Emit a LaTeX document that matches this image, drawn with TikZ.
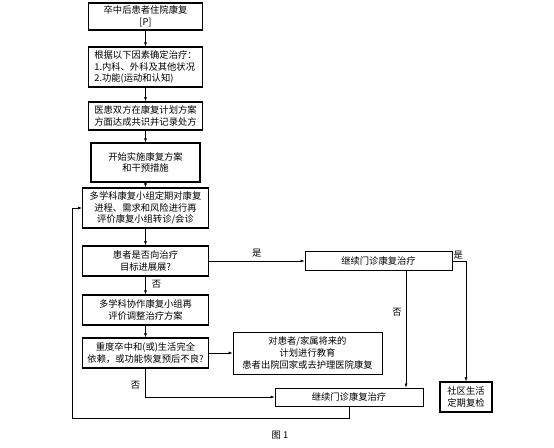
\documentclass[tikz,border=0pt]{standalone}
\usepackage{fontspec}
\setmainfont{Noto Sans CJK SC}
\usetikzlibrary{arrows.meta}
\begin{document}
\begin{tikzpicture}[x=1pt,y=-1pt,
  font=\fontsize{9.3}{11.8}\selectfont,
  box/.style={draw, line width=1.2pt, align=center, inner sep=0pt},
  thinbox/.style={box, line width=0.8pt},
  arr/.style={-{Latex[length=4pt,width=3pt]}, line width=0.6pt},
  lbl/.style={inner sep=0pt, font=\fontsize{9.3}{10}\selectfont}]
\useasboundingbox (0,0) rectangle (554,447);
\node[box, minimum width=114, minimum height=27] (b1) at (145.5,16.5) {卒中后患者住院康复\\\relax [P]};
\node[box, minimum width=114, minimum height=40, align=left] (b2) at (145.5,67) {根据以下因素确定治疗：\\1.内科、外科及其他状况\\2.功能(运动和认知)};
\node[box, minimum width=114, minimum height=28] (b3) at (145.5,116) {医患双方在康复计划方案\\方面达成共识并记录处方};
\node[box, minimum width=109, minimum height=39] (b4) at (145.5,162.5) {开始实施康复方案\\和干预措施};
\node[box, minimum width=126, minimum height=40] (b5) at (145.5,208) {多学科康复小组定期对康复\\进程、需求和风险进行再\\评价康复小组转诊/会诊};
\node[box, minimum width=126, minimum height=30] (b6) at (145.5,261) {患者是否向治疗\\目标进展展?};
\node[thinbox, minimum width=147, minimum height=19] (b7) at (378.5,261) {继续门诊康复治疗};
\node[box, minimum width=126, minimum height=30] (b8) at (145.5,310) {多学科协作康复小组再\\评价调整治疗方案};
\node[box, minimum width=126, minimum height=30] (b9) at (145.5,353) {重度卒中和(或)生活完全\\依赖，或功能恢复预后不良?};
\node[thinbox, minimum width=149, minimum height=42] (b10) at (307.5,353) {对患者/家属将来的\\计划进行教育\\患者出院回家或去护理医院康复};
\node[thinbox, minimum width=148, minimum height=18] (b11) at (349,397) {继续门诊康复治疗};
\node[box, minimum width=52, minimum height=30] (b12) at (466,397) {社区生活\\定期复检};
\node[lbl] (fig) at (280,435) {图 1};
\draw[arr] (b1) -- (b2);
\draw[arr] (b2) -- (b3);
\draw[arr] (b3) -- (b4);
\draw[arr] (b4) -- (b5);
\draw[arr] (b5) -- (b6);
\draw[arr] (b6) -- node[lbl, above=3pt] (y1) {是} (b7);
\draw[arr] (b6) -- node[lbl, right=6pt, pos=0.45] (n1) {否} (b8);
\draw[arr] (b8) -- (b9);
\draw[arr] (b9) -- (b10);
\draw[arr] (b9) |- node[lbl, pos=0.3, left=5pt] (n3) {否} (b11);
\draw[arr] ([xshift=27.5]b7.south) -- node[lbl, left=4pt, pos=0.35] (n2) {否} ([xshift=27.5]b7.south |- b11.north);
\draw[arr] (b7.east) -| node[lbl, pos=0.0, above right=1pt] (y2) {是} (b12.north);
\coordinate (lp) at (72,418);
\draw[arr] (b11.south) |- (lp) |- (b5.west);
\end{tikzpicture}
\end{document}
